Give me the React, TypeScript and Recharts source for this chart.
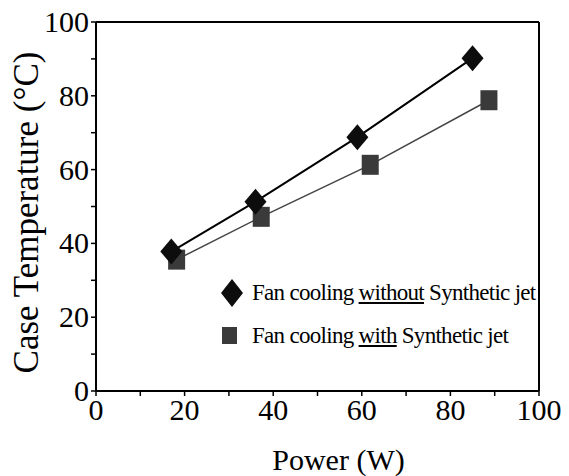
import React from "react";
import {
  LineChart,
  Line,
  XAxis,
  YAxis,
  ReferenceLine,
  Label,
} from "recharts";

// power (W) and case temperature (°C)
const powerWithout = [17, 36, 59, 85];
const tempWithout = [37.8, 51.3, 68.8, 90.2];
const powerWith = [18.2, 37.3, 61.9, 88.7];
const tempWith = [35.6, 47.2, 61.3, 78.8];

const xTicks = [0, 10, 20, 30, 40, 50, 60, 70, 80, 90, 100];
const yTicks = [0, 10, 20, 30, 40, 50, 60, 70, 80, 90, 100];

const withoutData = powerWithout.map((x, i) => ({ x, y: tempWithout[i] }));
const withData = powerWith.map((x, i) => ({ x, y: tempWith[i] }));

const FONT = "Liberation Serif, Times New Roman, serif";
const DIAMOND = "#0d0d0d";
const SQUARE = "#3a3a3a";

const Diamond = (props: any) => {
  const { cx, cy, index } = props;
  if (cx == null || cy == null) return <g key={`d${index}`} />;
  const w = 11;
  const h = 13;
  return (
    <path
      key={`d${index}`}
      d={`M${cx},${cy - h} L${cx + w},${cy} L${cx},${cy + h} L${cx - w},${cy} Z`}
      fill={DIAMOND}
    />
  );
};

const Square = (props: any) => {
  const { cx, cy, index } = props;
  if (cx == null || cy == null) return <g key={`s${index}`} />;
  return <rect key={`s${index}`} x={cx - 8.5} y={cy - 10} width={17} height={20} fill={SQUARE} />;
};

const label20 = (v: number) => (v % 20 === 0 ? String(v) : "");

// tick text drawn by hand so the serif face sticks
const XTick = (props: any) => {
  const { x, y, payload } = props;
  return (
    <text x={x} y={y + 22} textAnchor="middle" fontFamily={FONT} fontSize={30} fill="#000">
      {label20(payload.value)}
    </text>
  );
};

const YTick = (props: any) => {
  const { x, y, payload } = props;
  return (
    <text x={x} y={y + 10} textAnchor="end" fontFamily={FONT} fontSize={30} fill="#000">
      {label20(payload.value)}
    </text>
  );
};

const XTitle = (props: any) => {
  const vb = props.viewBox || { x: 0, y: 0, width: 0, height: 0 };
  return (
    <text
      x={vb.x + vb.width / 2 + 21}
      y={vb.y + vb.height - 6}
      textAnchor="middle"
      fontFamily={FONT}
      fontSize={30}
      fill="#000"
    >
      Power (W)
    </text>
  );
};

const YTitle = (props: any) => {
  const vb = props.viewBox || { x: 0, y: 0, width: 0, height: 0 };
  const x = vb.x + 38;
  const y = vb.y + vb.height / 2 + 6;
  return (
    <text
      x={x}
      y={y}
      transform={`rotate(-90, ${x}, ${y})`}
      textAnchor="middle"
      fontFamily={FONT}
      fontSize={35}
      fill="#000"
    >
      Case Temperature (°C)
    </text>
  );
};

const LegendBox = () => {
  const row: React.CSSProperties = {
    display: "flex",
    alignItems: "center",
    height: 43,
    fontFamily: FONT,
    fontSize: 23,
    letterSpacing: -0.7,
    color: "#000",
    whiteSpace: "nowrap",
  };
  return (
    <div style={{ position: "absolute", left: 218, top: 271 }}>
      <div style={row}>
        <svg width={28} height={30}>
          <path d="M14,1 L25,15 L14,29 L3,15 Z" fill={DIAMOND} />
        </svg>
        <span style={{ marginLeft: 6 }}>
          Fan cooling <span style={{ textDecoration: "underline" }}>without</span> Synthetic jet
        </span>
      </div>
      <div style={row}>
        <svg width={28} height={30}>
          <rect x={4} y={6} width={15} height={17} fill={SQUARE} />
        </svg>
        <span style={{ marginLeft: 6 }}>
          Fan cooling <span style={{ textDecoration: "underline" }}>with</span> Synthetic jet
        </span>
      </div>
    </div>
  );
};

export default function App() {
  return (
    <div style={{ position: "absolute", left: 0, top: 0, width: 569, height: 476, background: "#fff" }}>
      <LineChart width={569} height={476} margin={{ top: 22, right: 30, left: 0, bottom: 0 }}>
        <XAxis
          type="number"
          dataKey="x"
          domain={[0, 100]}
          ticks={xTicks}
          interval={0}
          tick={<XTick />}
          tickSize={5}
          height={85}
          axisLine={{ stroke: "#000", strokeWidth: 2 }}
          tickLine={{ stroke: "#000", strokeWidth: 1.5 }}
          allowDataOverflow
        >
          <Label content={XTitle} />
        </XAxis>
        <YAxis
          type="number"
          dataKey="y"
          domain={[0, 100]}
          ticks={yTicks}
          interval={0}
          tick={<YTick />}
          tickSize={5}
          width={96}
          axisLine={{ stroke: "#000", strokeWidth: 2 }}
          tickLine={{ stroke: "#000", strokeWidth: 1.5 }}
          allowDataOverflow
        >
          <Label content={YTitle} />
        </YAxis>
        <ReferenceLine y={100} stroke="#000" strokeWidth={2} />
        <ReferenceLine x={100} stroke="#000" strokeWidth={2} />
        <Line
          data={withData}
          dataKey="y"
          name="Fan cooling with Synthetic jet"
          stroke="#444"
          strokeWidth={1.5}
          dot={Square}
          activeDot={false}
          isAnimationActive={false}
        />
        <Line
          data={withoutData}
          dataKey="y"
          name="Fan cooling without Synthetic jet"
          stroke="#000"
          strokeWidth={2}
          dot={Diamond}
          activeDot={false}
          isAnimationActive={false}
        />
      </LineChart>
      <LegendBox />
    </div>
  );
}
